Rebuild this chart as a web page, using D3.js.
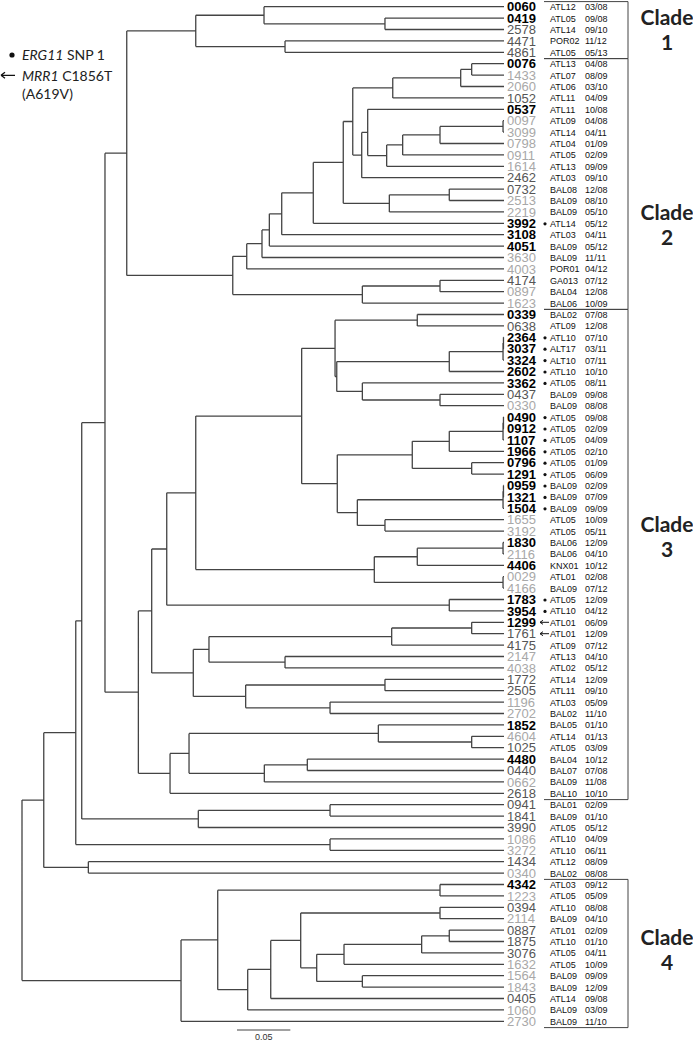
<!DOCTYPE html>
<html><head><meta charset="utf-8">
<script src="https://cdn.jsdelivr.net/npm/d3@7"></script>
<style>body{margin:0;background:#fff}svg{display:block}</style>
</head><body>
<svg id="chart" width="693" height="1041"></svg>
<script>
// ---------------- DATA ----------------
const isolates = ["0060","0419","2578","4471","4861","0076","1433","2060","1052","0537","0097","3099","0798","0911","1614","2462","0732","2513","2219","3992","3108","4051","3630","4003","4174","0897","1623","0339","0638","2364","3037","3324","2602","3362","0437","0330","0490","0912","1107","1966","0796","1291","0959","1321","1504","1655","3192","1830","2116","4406","0029","4166","1783","3954","1299","1761","4175","2147","4038","1772","2505","1196","2702","1852","4604","1025","4480","0440","0662","2618","0941","1841","3990","1086","3272","1434","0340","4342","1223","0394","2114","0887","1875","3076","1632","1564","1843","0405","1060","2730"];
const sites = ["ATL12","ATL05","ATL14","POR02","ATL05","ATL13","ATL07","ATL06","ATL11","ATL11","ATL09","ATL14","ATL04","ATL05","ATL13","ATL03","BAL08","BAL09","BAL09","ATL14","ATL03","BAL09","BAL09","POR01","GA013","BAL04","BAL06","BAL02","ATL09","ATL10","ALT17","ALT10","ATL10","ATL05","BAL09","BAL09","ATL05","ATL05","ATL05","ATL05","ATL05","ATL05","BAL09","BAL09","BAL09","ATL05","ATL05","BAL06","BAL06","KNX01","ATL01","BAL09","ATL05","ATL10","ATL01","ATL01","ATL09","ATL13","ATL02","ATL14","ATL11","ATL03","BAL02","BAL05","ATL14","ATL05","BAL04","BAL07","BAL09","BAL10","BAL01","BAL09","ATL05","ATL10","ATL10","ATL12","BAL02","ATL03","ATL05","ATL10","BAL09","ATL01","ATL10","ATL05","ATL05","BAL09","BAL09","ATL14","BAL09","BAL09"];
const dates = ["03/08","09/08","09/10","11/12","05/13","04/08","08/09","03/10","04/09","10/08","04/08","04/11","01/09","02/09","09/09","09/10","12/08","08/10","05/10","05/12","04/11","05/12","11/11","04/12","07/12","12/08","10/09","07/08","12/08","07/10","03/11","07/11","10/10","08/11","09/08","08/08","09/08","02/09","04/09","02/10","01/09","06/09","02/09","07/09","09/09","10/09","05/11","12/09","04/10","10/12","02/08","07/12","12/09","04/12","06/09","12/09","07/12","04/10","05/12","12/09","09/10","05/09","11/10","01/10","01/13","03/09","10/12","07/08","11/08","10/10","02/09","01/10","05/12","04/09","06/11","08/09","08/08","09/12","05/09","08/08","04/10","02/09","01/10","04/11","10/09","09/09","12/09","09/08","03/09","11/10"];
// b = bold black, d = dark grey, l = light grey
const labelStyle = ["b","b","d","d","d","b","l","l","d","b","l","l","l","l","l","d","d","l","l","b","b","b","l","l","d","l","l","b","d","b","b","b","b","b","d","l","b","b","b","b","b","b","b","b","b","l","l","b","l","b","l","l","b","b","b","d","d","l","l","d","d","l","l","b","l","d","b","d","l","d","d","d","d","l","l","d","l","b","l","d","l","d","d","d","l","l","l","d","l","l"];
const erg11Snp1 = ["3992","2364","3037","3324","2602","3362","0490","0912","1107","1966","0796","1291","0959","1321","1504","1783","3954"];
const mrr1C1856T = ["1299","1761"];
const cladeNames = ["1","2","3","4"];
const cladeFirst = ["0060","0076","0339","4342"];
const cladeLast  = ["4861","1623","2618","2730"];
// internal nodes: [id, upper child, lower child, height (substitutions/site)]
const internalNodes = [
 ["k1a","0419","2578",0.1116],["k1b","0060","k1a",0.2250],["k1c","4471","4861",0.2053],["clade1","k1b","k1c",0.2890],
 ["k2a","0076","1433",0.0303],["k2b","k2a","2060",0.0406],["k2c","k2b","1052",0.1043],["k2d","0097","3099",0.0009],
 ["k2e","k2d","0798",0.0600],["k2f","k2e","0911",0.0950],["k2g","k2f","1614",0.1100],["k2h","0537","k2g",0.1278],
 ["k2i","k2h","2462",0.1334],["k2j","k2c","k2i",0.1418],["k2k","0732","2513",0.0513],["k2l","k2k","2219",0.1075],
 ["k2m","k2j","k2l",0.1507],["k2n","k2m","3992",0.1788],["k2o","k2n","3108",0.2084],["k2p","k2o","4051",0.2200],
 ["k2q","k2p","3630",0.2269],["k2r","k2q","4003",0.2412],["k2s","4174","0897",0.0600],["k2t","k2s","1623",0.1328],
 ["clade2","k2r","k2t",0.2543],["k12","clade1","clade2",0.3537],
 ["k3a","0339","0638",0.0813],["k3b","2364","3037",0.0005],["k3c","k3b","3324",0.0009],["k3d","k3c","2602",0.0513],
 ["k3e","0437","0330",0.0600],["k3f","3362","k3e",0.1328],["k3g","k3d","k3f",0.1568],["k3h","k3a","k3g",0.1584],
 ["k3i","0490","0912",0.0005],["k3j","k3i","1107",0.0009],["k3k","k3j","1966",0.0513],["k3l","0796","1291",0.0303],
 ["k3m","k3k","k3l",0.0860],["k3n","0959","1321",0.0005],["k3o","k3n","1504",0.0009],["k3p","1655","3192",0.1116],
 ["k3q","k3o","k3p",0.1375],["k3r","k3m","k3q",0.1563],["k3s","k3h","k3r",0.1897],["k3t","1830","2116",0.0009],
 ["k3u","k3t","4406",0.0813],["k3v","0029","4166",0.0009],["k3w","k3u","k3v",0.1216],["k3x","k3s","k3w",0.2890],
 ["k3y","1783","3954",0.0513],["k3z","k3x","k3y",0.3162],["k3A","1299","1761",0.0303],["k3B","k3A","4175",0.1053],
 ["k3C","2147","4038",0.2053],["k3D","k3B","k3C",0.2766],["k3E","1772","2505",0.1116],["k3F","1196","2702",0.1631],
 ["k3G","k3E","k3F",0.2422],["k3H","k3D","k3G",0.2913],["k3I","k3z","k3H",0.3303],["k3J","4604","1025",0.0303],
 ["k3K","1852","k3J",0.1178],["k3L","4480","0440",0.1844],["k3M","k3L","0662",0.2247],["k3N","k3K","k3M",0.2953],
 ["k3O","k3N","2618",0.3131],["clade3","k3I","k3O",0.3428],["k123","k12","clade3",0.3741],
 ["k5a","0941","1841",0.1631],["k5b","k5a","3990",0.2866],["k5c","k123","k5b",0.3959],["k5d","1086","3272",0.1631],
 ["k5e","k5c","k5d",0.4015],["k5f","1434","0340",0.3897],["k5g","k5e","k5f",0.4315],
 ["k4a","4342","1223",0.0600],["k4b","0394","2114",0.0600],["k4c","0887","1875",0.0513],["k4d","k4c","3076",0.0772],
 ["k4e","k4d","1632",0.1500],["k4f","1564","1843",0.1328],["k4g","k4e","k4f",0.1756],["k4h","k4b","k4g",0.1906],
 ["k4i","k4h","0405",0.2187],["k4j","k4i","1060",0.2403],["k4k","k4a","k4j",0.2684],["clade4","k4k","2730",0.3028],
 ["root","k5g","clade4",0.4519]
];
const scaleBarValue = 0.05;

// ---------------- LAYOUT ----------------
const W = 693, H = 1041;
const tipX = 504, rootX = 22;
const svg = d3.select("#chart");
const lineCol = "#444";

const byId = new Map(internalNodes.map(([id,a,b,h]) => [id,{kids:[a,b],h}]));
function build(id){
  const n = byId.get(id);
  if(!n) return {id, height:0};
  return {id, height:n.h, children:n.kids.map(build)};
}
const root = d3.hierarchy(build("root"));
const x = d3.scaleLinear().domain([0, root.data.height]).range([tipX, rootX]);
const y = d3.scaleLinear().domain([0, isolates.length-1]).range([6.7, 1021.3]);

root.leaves().forEach(l => { l.yy = y(isolates.indexOf(l.data.id)); });
root.eachAfter(n => { if(n.children) n.yy = (n.children[0].yy + n.children[n.children.length-1].yy)/2; });

let d = "";
root.each(n => {
  const nx = x(n.data.height);
  if(n.children){
    const c = n.children;
    d += `M${nx},${c[0].yy}V${c[c.length-1].yy}`;
  }
  if(n.parent){
    d += `M${x(n.parent.data.height)},${n.yy}H${nx}`;
  }
});
svg.append("path").attr("d", d).attr("fill","none").attr("stroke",lineCol).attr("stroke-width",1.3);

// labels
const colorOf = {b:"#000", d:"#555", l:"#a8a8a8"};
const g = svg.append("g");
isolates.forEach((id,i) => {
  const yy = y(i), s = labelStyle[i];
  g.append("text").attr("x",507).attr("y",yy+4.6).text(id)
    .attr("font-family","'Liberation Sans',Arial,sans-serif").attr("font-size",13)
    .attr("font-weight", s==="b" ? "bold" : "normal").attr("fill", colorOf[s]);
  g.append("text").attr("x",550).attr("y",yy+3.4).text(sites[i])
    .attr("font-family","'Liberation Sans',Arial,sans-serif").attr("font-size",9).attr("fill","#111");
  g.append("text").attr("x",585).attr("y",yy+3.4).text(dates[i])
    .attr("font-family","'Liberation Sans',Arial,sans-serif").attr("font-size",9).attr("fill","#111");
  if(erg11Snp1.includes(id)){
    g.append("circle").attr("cx",545).attr("cy",yy+0.5).attr("r",1.6).attr("fill","#111");
  }
  if(mrr1C1856T.includes(id)){
    g.append("path").attr("d",`M540,${yy}H549M540,${yy}l3,-2M540,${yy}l3,2`).attr("stroke","#111").attr("stroke-width",1).attr("fill","none");
  }
});

// clade boxes
const boxL = 544, boxR = 628;
const cladeLabelY = [25, 220, 532, 945];
cladeNames.forEach((name,k) => {
  const top = y(isolates.indexOf(cladeFirst[k])) - 5.1;
  const bot = y(isolates.indexOf(cladeLast[k])) + 6.3;
  svg.append("path").attr("d",`M${boxL},${top}H${boxR}V${bot}H${boxL}`)
    .attr("fill","none").attr("stroke",lineCol).attr("stroke-width",1);
  const t = svg.append("text").attr("text-anchor","middle").attr("font-family","Lato,'Open Sans',sans-serif")
    .attr("font-weight","bold").attr("font-size",21).attr("fill","#222");
  t.append("tspan").attr("x",667).attr("y",cladeLabelY[k]).text("Clade");
  t.append("tspan").attr("x",667).attr("y",cladeLabelY[k]+25).text(name);
});

// legend
const lg = svg.append("g").attr("font-family","Lato,'Open Sans',sans-serif").attr("font-size",14).attr("fill","#222");
lg.append("circle").attr("cx",12).attr("cy",55).attr("r",2.6).attr("fill","#111");
const t1 = lg.append("text").attr("x",22).attr("y",60);
t1.append("tspan").attr("font-style","italic").text("ERG11");
t1.append("tspan").text(" SNP 1");
lg.append("path").attr("d","M1,75.3H15M1,75.3l4,-3M1,75.3l4,3").attr("stroke","#111").attr("stroke-width",1.3).attr("fill","none");
const t2 = lg.append("text").attr("x",22).attr("y",81);
t2.append("tspan").attr("font-style","italic").text("MRR1");
t2.append("tspan").text(" C1856T");
lg.append("text").attr("x",22).attr("y",99).text("(A619V)");

// scale bar
const sbX = 237, sbY = 1030;
const sbLen = x(0) - x(scaleBarValue);
svg.append("path").attr("d",`M${sbX},${sbY}H${sbX+sbLen}`).attr("stroke",lineCol).attr("stroke-width",1.2);
svg.append("text").attr("x",sbX+sbLen/2).attr("y",1040).attr("text-anchor","middle")
  .attr("font-family","'Liberation Sans',Arial,sans-serif").attr("font-size",9).attr("fill","#333").text(String(scaleBarValue));
</script>
</body></html>
